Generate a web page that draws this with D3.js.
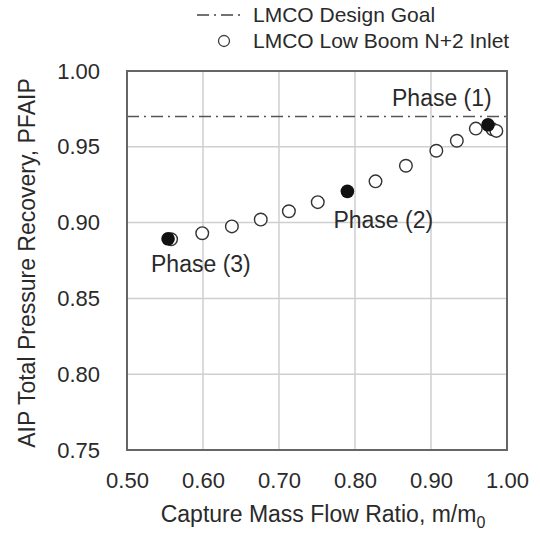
<!DOCTYPE html>
<html>
<head>
<meta charset="utf-8">
<script src="https://cdn.jsdelivr.net/npm/d3@7"></script>
<style>
  body { margin: 0; background: #fff; }
  text { font-family: "Liberation Sans", Arial, sans-serif; fill: #2a2a2a; }
</style>
</head>
<body>
<svg class="chart" width="540" height="533"></svg>
<script>
// data
var xTicks = [0.50, 0.60, 0.70, 0.80, 0.90, 1.00];
var yTicks = [0.75, 0.80, 0.85, 0.90, 0.95, 1.00];
var designGoal = 0.97;

// open circles: LMCO Low Boom N+2 Inlet
var inletMfr = [0.558, 0.599, 0.638, 0.676, 0.713, 0.751, 0.827, 0.867, 0.907, 0.934, 0.959, 0.981, 0.986];
var inletPr  = [0.889, 0.893, 0.8975, 0.902, 0.9075, 0.9135, 0.9272, 0.9375, 0.9474, 0.954, 0.962, 0.9615, 0.9605];

// filled circles: the three phases
var phaseNames = ["Phase (1)", "Phase (2)", "Phase (3)"];
var phaseMfr = [0.975, 0.790, 0.554];
var phasePr  = [0.9645, 0.9206, 0.8893];

var svg = d3.select("svg.chart"),
    margin = {top: 71, right: 33, bottom: 83, left: 127},
    width = +svg.attr("width") - margin.left - margin.right,
    height = +svg.attr("height") - margin.top - margin.bottom,
    g = svg.append("g").attr("transform", "translate(" + margin.left + "," + margin.top + ")");

var x = d3.scaleLinear().domain([0.5, 1.0]).range([0, width]),
    y = d3.scaleLinear().domain([0.75, 1.0]).range([height, 0]);

// grid
g.append("g")
    .selectAll("line.vgrid")
    .data(xTicks.slice(1, -1))
    .enter().append("line")
    .attr("x1", x).attr("x2", x)
    .attr("y1", 0).attr("y2", height)
    .style("stroke", "#cfcfcf").style("stroke-width", 1.5);

g.append("g")
    .selectAll("line.hgrid")
    .data(yTicks.slice(1, -1))
    .enter().append("line")
    .attr("y1", y).attr("y2", y)
    .attr("x1", 0).attr("x2", width)
    .style("stroke", "#cfcfcf").style("stroke-width", 1.5);

// design goal
g.append("line")
    .attr("x1", 0).attr("x2", width)
    .attr("y1", y(designGoal)).attr("y2", y(designGoal))
    .style("stroke", "#555")
    .style("stroke-width", 1.5)
    .style("stroke-dasharray", "12,5,2,5");

// frame
g.append("rect")
    .attr("width", width).attr("height", height)
    .style("fill", "none").style("stroke", "#666").style("stroke-width", 2);

// axes (labels only)
var xAxis = g.append("g")
    .attr("transform", "translate(0," + height + ")")
    .call(d3.axisBottom(x).tickValues(xTicks).tickFormat(d3.format(".2f")).tickSize(0).tickPadding(22));
var yAxis = g.append("g")
    .call(d3.axisLeft(y).tickValues(yTicks).tickFormat(d3.format(".2f")).tickSize(0).tickPadding(27));
[xAxis, yAxis].forEach(function(a) {
  a.select(".domain").remove();
  a.selectAll("text")
    .style("font-size", "22px")
    .style("font-family", "'Liberation Sans', Arial, sans-serif")
    .attr("fill", "#2a2a2a");
});

// points
var inlet = inletMfr.map(function(d, i) { return {x: d, y: inletPr[i]}; });
var phases = phaseMfr.map(function(d, i) { return {x: d, y: phasePr[i], name: phaseNames[i]}; });

g.selectAll(".inlet")
  .data(inlet)
  .enter().append("circle")
    .attr("class", "inlet")
    .attr("cx", function(d) { return x(d.x); })
    .attr("cy", function(d) { return y(d.y); })
    .attr("r", 6.3)
    .style("fill", "#fff")
    .style("stroke", "#333")
    .style("stroke-width", 1.4);

g.selectAll(".phase")
  .data(phases)
  .enter().append("circle")
    .attr("class", "phase")
    .attr("cx", function(d) { return x(d.x); })
    .attr("cy", function(d) { return y(d.y); })
    .attr("r", 6.8)
    .style("fill", "#111");

var labelOffsets = [[-96, -19], [-14, 37], [-17, 33]];
g.selectAll(".phase-label")
  .data(phases)
  .enter().append("text")
    .attr("class", "phase-label")
    .attr("x", function(d, i) { return x(d.x) + labelOffsets[i][0]; })
    .attr("y", function(d, i) { return y(d.y) + labelOffsets[i][1]; })
    .style("font-size", "23px")
    .text(function(d) { return d.name; });

// axis titles
var xt = svg.append("text")
    .attr("x", 323)
    .attr("y", 522)
    .attr("text-anchor", "middle")
    .style("font-size", "23px");
xt.append("tspan").text("Capture Mass Flow Ratio, m/m");
xt.append("tspan").attr("dy", 6).style("font-size", "16px").text("0");

svg.append("text")
    .attr("transform", "translate(35,263) rotate(-90)")
    .attr("text-anchor", "middle")
    .style("font-size", "23px")
    .text("AIP Total Pressure Recovery, PFAIP");

// legend
var legend = svg.append("g");
legend.append("line")
    .attr("x1", 197).attr("x2", 241)
    .attr("y1", 15).attr("y2", 15)
    .style("stroke", "#444").style("stroke-width", 1.5)
    .style("stroke-dasharray", "12,5,2,5");
legend.append("text")
    .attr("x", 253).attr("y", 22)
    .style("font-size", "21px")
    .text("LMCO Design Goal");
legend.append("circle")
    .attr("cx", 224).attr("cy", 41).attr("r", 5.5)
    .style("fill", "#fff").style("stroke", "#444").style("stroke-width", 1.3);
legend.append("text")
    .attr("x", 253).attr("y", 48)
    .style("font-size", "21px")
    .text("LMCO Low Boom N+2 Inlet");
</script>
</body>
</html>
